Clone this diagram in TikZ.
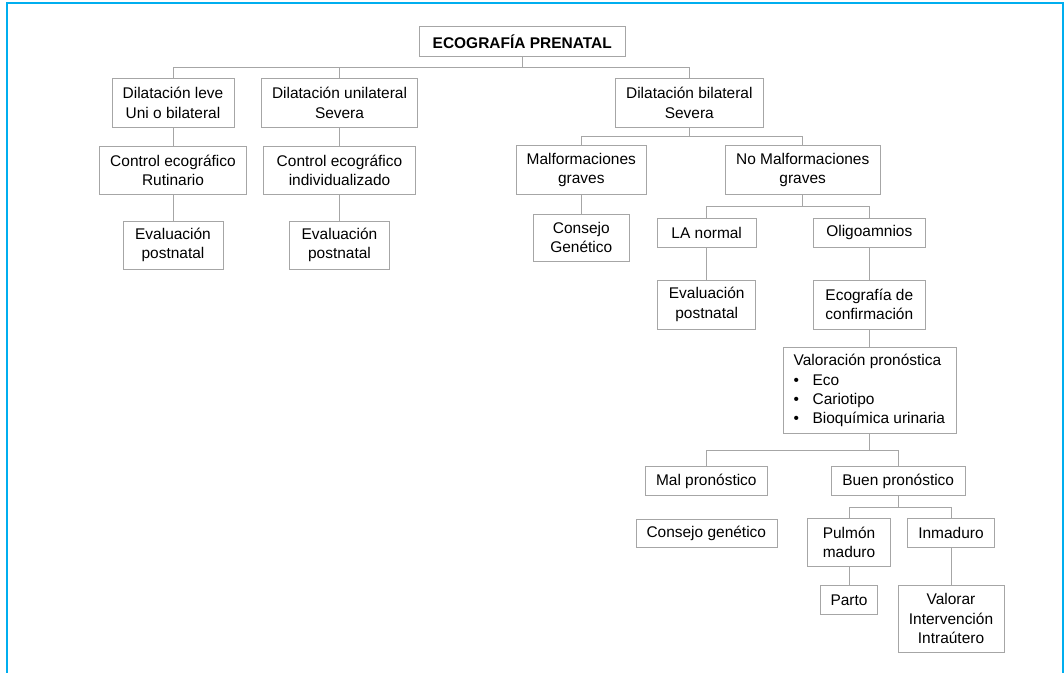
\documentclass[tikz,border=0pt]{standalone}
\usepackage{fontspec}
\setmainfont{Liberation Sans}
\usetikzlibrary{positioning}
\definecolor{framecyan}{RGB}{0,174,239}

\begin{document}
\begin{tikzpicture}[
    x=0.75pt, y=-0.75pt,
    font=\fontsize{11.6}{14.5}\selectfont,
    box/.style={draw=gray!70, align=center, inner sep=0pt, text=black},
    wh/.style 2 args={minimum width=#1*0.75pt, minimum height=#2*0.75pt},
    link/.style={draw=gray!70, line width=0.6pt},
    frame/.style={draw=framecyan, line width=1.5pt},
]
    \useasboundingbox (0,0) rectangle (1064,673);

    %==================== FRAME (open at the bottom) ====================
    \draw[frame] (6.5,673) -- (6.5,3.5) -- (1062.7,3.5) -- (1062.7,673);

    %==================== ROOT ====================
    \node[box, wh={205.7}{29.3}, font=\fontsize{11.6}{14.5}\selectfont\bfseries]
        (root) at (522.2,41.3) {ECOGRAFÍA PRENATAL};

    %==================== FIRST LEVEL ====================
    \node[box, wh={122}{48.6}] (leve) at (173,103) {Dilatación leve\\Uni o bilateral};
    \node[box, wh={156}{48.6}] (uni) at (339.5,103) {Dilatación unilateral\\Severa};
    \node[box, wh={148}{48.6}] (bil) at (689.3,103) {Dilatación bilateral\\Severa};

    \draw[link] (root.south) -- ++(0,10.7) -| (leve.north);
    \draw[link] (root.south) ++(0,10.7) -| (uni.north);
    \draw[link] (root.south) ++(0,10.7) -| (bil.north);

    %==================== LEFT BRANCHES ====================
    \node[box, wh={147.4}{48.7}, below=13.5pt of leve] (ctrl1) {Control ecográfico\\Rutinario};
    \node[box, wh={100}{48.3}, below=19.5pt of ctrl1] (eval1) {Evaluación\\postnatal};
    \node[box, wh={152}{48.7}, below=13.5pt of uni] (ctrl2) {Control ecográfico\\individualizado};
    \node[box, wh={100}{48.3}, below=19.5pt of ctrl2] (eval2) {Evaluación\\postnatal};

    \draw[link] (leve) -- (ctrl1) -- (eval1);
    \draw[link] (uni) -- (ctrl2) -- (eval2);

    %==================== BILATERAL BRANCH ====================
    \node[box, wh={130.7}{48.7}] (malf) at (581.3,169.7) {Malformaciones\\graves};
    \node[box, wh={154.7}{48.7}] (nomalf) at (802.7,169.7) {No Malformaciones\\graves};
    \node[box, wh={96}{47.4}, below=14.5pt of malf] (consejo1) {Consejo\\Genético};

    \draw[link] (bil.south) -- ++(0,8.7) -| (malf.north);
    \draw[link] (bil.south) ++(0,8.7) -| (nomalf.north);
    \draw[link] (malf) -- (consejo1);

    \node[box, wh={98.7}{28.6}] (lanorm) at (706.7,233) {LA normal};
    \node[box, wh={112}{28.6}] (oligo) at (869.3,233) {Oligoamnios};
    \node[box, wh={98}{49}, below=24pt of lanorm] (eval3) {Evaluación\\postnatal};
    \node[box, wh={112.4}{49}, below=24pt of oligo] (ecoconf) {Ecografía de\\confirmación};

    \draw[link] (nomalf.south) -- ++(0,12) -| (lanorm.north);
    \draw[link] (nomalf.south) ++(0,12) -| (oligo.north);
    \draw[link] (lanorm) -- (eval3);
    \draw[link] (oligo) -- (ecoconf);

    %==================== PROGNOSIS ====================
    \node[box, wh={173}{86}, align=left, below=13.8pt of ecoconf] (valor)
        {Valoración pronóstica\\
         \makebox[14.25pt][l]{\textbullet}Eco\\
         \makebox[14.25pt][l]{\textbullet}Cariotipo\\
         \makebox[14.25pt][l]{\textbullet}Bioquímica urinaria};
    \draw[link] (ecoconf) -- (valor);

    \node[box, wh={122}{28.6}] (malpr) at (706.3,481) {Mal pronóstico};
    \node[box, wh={133.7}{28.6}] (buenpr) at (898.2,481) {Buen pronóstico};
    \node[box, wh={141}{28.7}, below=17.25pt of malpr] (consejo2) {Consejo genético};

    \draw[link] (valor.south) -- ++(0,16.6) -| (malpr.north);
    \draw[link] (valor.south) ++(0,16.6) -| (buenpr.north);

    \node[box, wh={82.6}{48}] (pulmon) at (849,542.3) {Pulmón\\maduro};
    \node[box, wh={86.6}{28.7}] (inmad) at (951,532.7) {Inmaduro};
    \node[box, wh={57}{29}, below=14pt of pulmon] (parto) {Parto};
    \node[box, wh={106}{67.3}] (intra) at (951,618.7) {Valorar\\Intervención\\Intraútero};

    \draw[link] (buenpr.south) -- ++(0,11.4) -| (pulmon.north);
    \draw[link] (buenpr.south) ++(0,11.4) -| (inmad.north);
    \draw[link] (pulmon) -- (parto);
    \draw[link] (inmad) -- (intra);

\end{tikzpicture}
\end{document}
